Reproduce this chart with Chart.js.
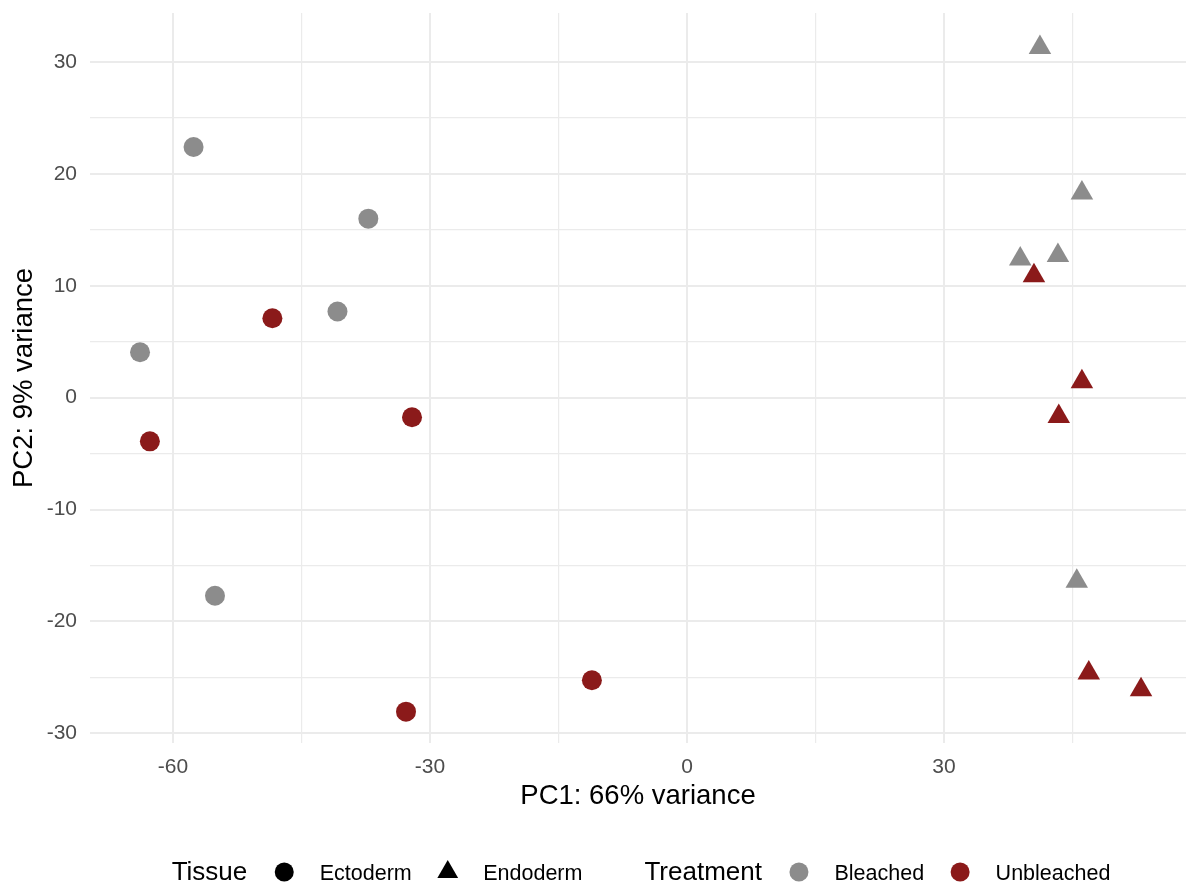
<!DOCTYPE html>
<html>
<head>
<meta charset="utf-8">
<script src="https://cdn.jsdelivr.net/npm/chart.js@4/dist/chart.umd.min.js"></script>
<style>
  html, body { margin: 0; padding: 0; background: #ffffff; }
  #wrap { width: 1186px; height: 885px; }
</style>
</head>
<body>
<div id="wrap"><canvas id="pca" width="1186" height="885"></canvas></div>
<script>
const FONT = '"Liberation Sans", Arial, Helvetica, sans-serif';
const GRAY = '#8C8C8C';
const RED = '#8B1A1A';

// PCA scores per sample group (PC1, PC2)
const bleachedEctoPC1   = [-57.6, -37.2, -40.8, -63.85, -55.1];
const bleachedEctoPC2   = [22.4, 16.0, 7.7, 4.06, -17.7];
const unbleachedEctoPC1 = [-48.4, -32.1, -62.7, -32.8, -11.1];
const unbleachedEctoPC2 = [7.1, -1.75, -3.9, -28.06, -25.25];
const bleachedEndoPC1   = [41.2, 46.1, 38.9, 43.3, 45.5];
const bleachedEndoPC2   = [31.3, 18.3, 12.4, 12.7, -16.4];
const unbleachedEndoPC1 = [40.5, 46.1, 43.4, 46.9, 53.0];
const unbleachedEndoPC2 = [10.9, 1.43, -1.67, -24.6, -26.1];

// Axis ticks: labelled majors and unlabelled minor grid lines
const xMajorTicks = [-60, -30, 0, 30];
const xMinorTicks = [-45, -15, 15, 45];
const yMajorTicks = [-30, -20, -10, 0, 10, 20, 30];
const yMinorTicks = [-25, -15, -5, 5, 15, 25];

const xTitle = 'PC1: 66% variance';
const yTitle = 'PC2: 9% variance';

const legendGroups = [
  { title: 'Tissue', items: [
    { label: 'Ectoderm', style: 'circle', color: '#000000' },
    { label: 'Endoderm', style: 'triangle', color: '#000000' }
  ]},
  { title: 'Treatment', items: [
    { label: 'Bleached', style: 'circle', color: GRAY },
    { label: 'Unbleached', style: 'circle', color: RED }
  ]}
];

const toPoints = (xs, ys) => xs.map((x, i) => ({ x: x, y: ys[i] }));

function group(label, xs, ys, color, style) {
  return {
    label: label,
    data: toPoints(xs, ys),
    backgroundColor: color,
    borderColor: color,
    borderWidth: 0,
    pointStyle: style,
    pointRadius: style === 'triangle' ? 13 : 10,
    pointHoverRadius: style === 'triangle' ? 13 : 10
  };
}

function gridTicks(major, minor) {
  return scale => {
    scale.ticks = major.concat(minor).sort((a, b) => a - b).map(v => ({ value: v }));
  };
}

function gridWidth(major) {
  return ctx => (ctx.tick && major.includes(ctx.tick.value)) ? 2 : 1.2;
}

// keep the plot panel flush with the fixed axis boxes
function fixBox(dim, size) {
  return scale => {
    scale[dim] = size;
    scale.paddingTop = 0;
    scale.paddingBottom = 0;
    scale.paddingLeft = 0;
    scale.paddingRight = 0;
  };
}

// Two-group legend (shape key + colour key) drawn under the plot
const groupLegend = {
  id: 'groupLegend',
  afterDraw(chart) {
    const ctx = chart.ctx;
    const titleFont = '26px ' + FONT;
    const textFont = '21.5px ' + FONT;
    const baseline = 880;
    const symY = 872;
    const titleToSym = 37, symToText = 35.5, textToSym = 36, groupGap = 62;

    ctx.save();
    // measure the full row so it can be centred under the plot
    let total = 0;
    legendGroups.forEach((g, gi) => {
      ctx.font = titleFont;
      total += ctx.measureText(g.title).width;
      ctx.font = textFont;
      g.items.forEach((it, ii) => {
        total += (ii === 0 ? titleToSym : textToSym) + symToText + ctx.measureText(it.label).width;
      });
      if (gi < legendGroups.length - 1) total += groupGap;
    });
    const area = chart.chartArea;
    let x = (area.left + area.right) / 2 + 3 - total / 2;

    ctx.textBaseline = 'alphabetic';
    ctx.textAlign = 'left';
    legendGroups.forEach((g, gi) => {
      ctx.font = titleFont;
      ctx.fillStyle = '#000000';
      ctx.fillText(g.title, x, baseline);
      x += ctx.measureText(g.title).width;
      g.items.forEach((it, ii) => {
        x += (ii === 0 ? titleToSym : textToSym);
        ctx.fillStyle = it.color;
        Chart.helpers.drawPoint(ctx, {
          pointStyle: it.style,
          radius: it.style === 'triangle' ? 12 : 9.5,
          rotation: 0,
          borderWidth: 0
        }, x, symY);
        x += symToText;
        ctx.font = textFont;
        ctx.fillStyle = '#000000';
        ctx.fillText(it.label, x, baseline);
        x += ctx.measureText(it.label).width;
      });
      if (gi < legendGroups.length - 1) x += groupGap;
    });
    ctx.restore();
  }
};

new Chart(document.getElementById('pca'), {
  type: 'scatter',
  data: {
    datasets: [
      group('Bleached · Ectoderm', bleachedEctoPC1, bleachedEctoPC2, GRAY, 'circle'),
      group('Unbleached · Ectoderm', unbleachedEctoPC1, unbleachedEctoPC2, RED, 'circle'),
      group('Bleached · Endoderm', bleachedEndoPC1, bleachedEndoPC2, GRAY, 'triangle'),
      group('Unbleached · Endoderm', unbleachedEndoPC1, unbleachedEndoPC2, RED, 'triangle')
    ]
  },
  options: {
    responsive: false,
    devicePixelRatio: 1,
    animation: false,
    layout: { autoPadding: false, padding: { top: 13, right: 0, bottom: 72, left: 0 } },
    plugins: {
      legend: { display: false },
      tooltip: { enabled: false }
    },
    scales: {
      x: {
        type: 'linear',
        position: 'bottom',
        min: -69.69,
        max: 58.25,
        afterBuildTicks: gridTicks(xMajorTicks, xMinorTicks),
        afterFit: fixBox('height', 70),
        ticks: {
          callback: v => xMajorTicks.includes(v) ? String(v) : '',
          font: { family: FONT, size: 21 },
          color: '#4D4D4D',
          padding: 12,
          maxRotation: 0,
          autoSkip: false
        },
        grid: { color: '#EBEBEB', lineWidth: gridWidth(xMajorTicks), drawTicks: false },
        border: { display: false },
        title: {
          display: true,
          text: xTitle,
          color: '#000000',
          font: { family: FONT, size: 27.5 },
          padding: { top: 0, bottom: 0 }
        }
      },
      y: {
        type: 'linear',
        position: 'left',
        min: -30.86,
        max: 34.38,
        afterBuildTicks: gridTicks(yMajorTicks, yMinorTicks),
        afterFit: fixBox('width', 90),
        ticks: {
          callback: v => yMajorTicks.includes(v) ? String(v) : '',
          font: { family: FONT, size: 21 },
          color: '#4D4D4D',
          padding: 13,
          autoSkip: false
        },
        grid: { color: '#EBEBEB', lineWidth: gridWidth(yMajorTicks), drawTicks: false },
        border: { display: false },
        title: {
          display: true,
          text: yTitle,
          color: '#000000',
          font: { family: FONT, size: 27.5 },
          padding: { top: 8, bottom: 0 }
        }
      }
    }
  },
  plugins: [groupLegend]
});
</script>
</body>
</html>
